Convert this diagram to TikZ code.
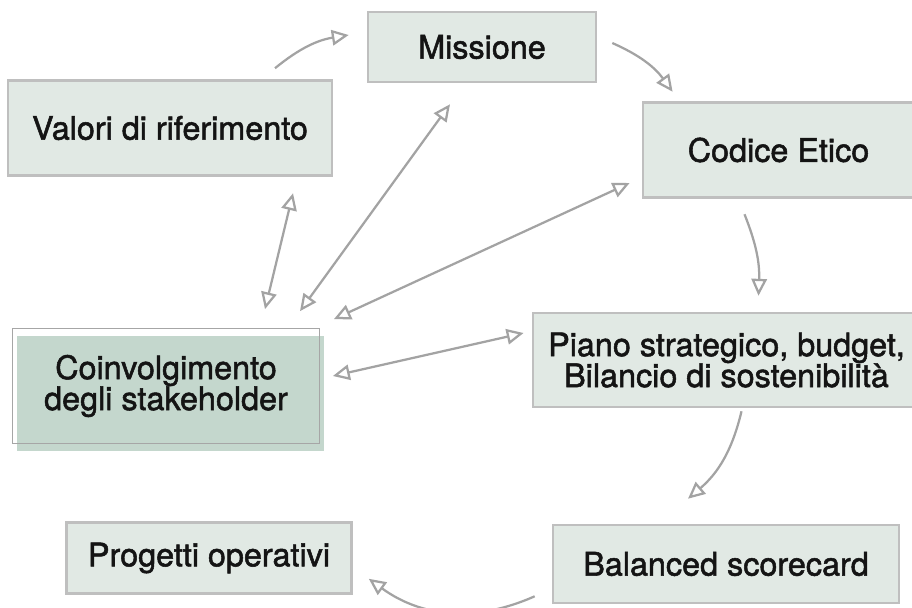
\documentclass[tikz,border=0pt]{standalone}
\usepackage{fontspec}
\setmainfont{TeX Gyre Heros}
\newfontfamily\boxfont{TeX Gyre Heros}[FakeBold=1.6]
\usetikzlibrary{arrows.meta,shadows}
\definecolor{boxfill}{HTML}{E1E9E4}
\definecolor{stakefill}{HTML}{C4D7CD}
\definecolor{boxline}{HTML}{BFBFBF}
\definecolor{arrowgray}{HTML}{A3A3A3}
\tikzset{
  box/.style = {align=center, inner sep=0pt, rectangle, draw=boxline, line width=1.8pt, fill=boxfill, text=black!92, font=\boxfont\fontsize{23}{22}\selectfont},
  stakebox/.style = {box, draw=gray!70, line width=1.2pt, fill=none, general shadow={fill=stakefill, shadow xshift=3pt, shadow yshift=-5.5pt}},
  flow/.style = {draw=arrowgray, line width=1.6pt, -{Triangle[open, length=12pt, width=11pt]}},
  both/.style = {flow, {Triangle[open, length=12pt, width=11pt]}-{Triangle[open, length=12pt, width=11pt]}}
}

\begin{document}
\begin{tikzpicture}[x=0.025cm, y=-0.025cm]
  \useasboundingbox (0,0) rectangle (912,607);
  % boxes
  \node [box, minimum width=5.7cm, minimum height=1.75cm] (missione) at (482,47) {Missione};
  \node [box, minimum width=8.1cm, minimum height=2.375cm] (valori) at (170,128) {Valori di riferimento};
  \node [box, minimum width=6.78cm, minimum height=2.375cm] (codice) at (778.5,150) {Codice Etico};
  \node [box, minimum width=9.68cm, minimum height=2.35cm] (piano) at (726.5,360) {Piano strategico, budget,\\Bilancio di sostenibilità};
  \node [box, minimum width=8.65cm, minimum height=1.95cm] (balanced) at (726,564) {Balanced scorecard};
  \node [box, minimum width=7.125cm, minimum height=1.775cm] (progetti) at (209,558) {Progetti operativi};
  \node [stakebox, minimum width=7.675cm, minimum height=2.875cm] (stake) at (166,386) {Coinvolgimento\\degli stakeholder};

  % cycle
  \draw [flow] ([shift={(105,-11)}]valori.north) to[bend left=15] ([shift={(-18,-12)}]missione.west);
  \draw [flow] ([shift={(15,-4)}]missione.east) to[bend left=15] ([shift={(31,-9.5)}]codice.north west);
  \draw [flow] ([shift={(-34,15.5)}]codice.south) to[bend left=12] ([shift={(32,-16)}]piano.north);
  \draw [flow] ([shift={(15,3)}]piano.south) to[bend left=18] ([shift={(-38,-25)}]balanced.north);
  \draw [flow] ([shift={(-17,-8)}]balanced.south west) to[bend left=30] ([shift={(16,-16)}]progetti.south east);

  % stakeholder links
  \draw [both] ([shift={(99,-18.5)}]stake.north) -- ([shift={(123,16.5)}]valori.south);
  \draw [both] ([shift={(134,-16.5)}]stake.north) -- ([shift={(-32,21)}]missione.south);
  \draw [both] ([shift={(13.5,-8.5)}]stake.north east) -- ([shift={(-12,33)}]codice.west);
  \draw [both] ([shift={(12.5,-10)}]stake.east) -- ([shift={(-8,-27)}]piano.west);
\end{tikzpicture}
\end{document}
